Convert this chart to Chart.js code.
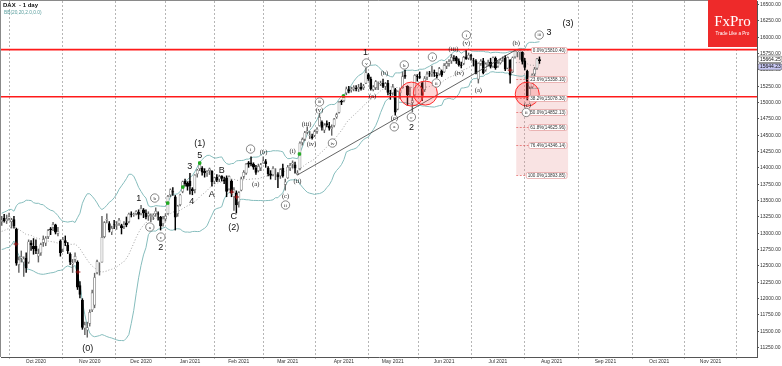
<!DOCTYPE html>
<html>
<head>
<meta charset="utf-8">
<title>DAX - 1 day</title>
<script src="https://cdn.jsdelivr.net/npm/chart.js"></script>
<style>
  html, body { margin: 0; padding: 0; background: #fff; }
  #wrap { width: 782px; height: 366px; }
</style>
</head>
<body>
<div id="wrap"><canvas id="chart" width="782" height="366"></canvas></div>
<script>

/* DATA - daily candles, index 0 = 11 Sep 2020, last = 26 Jul 2021 */
const openV = [
  13180,13230,13190,13230,13180,13210,13060,12520,12620,12560,12620,12560,12850,12800,
  12800,12650,12700,12860,12850,12950,13070,13090,13130,13000,12880,12760,12890,12820,12680,12530,12600,12560,12200,11980,11550,11520,
  11620,11830,11900,12400,12480,12560,12950,13200,13150,13020,13140,13120,13150,13120,13110,13160,13180,13300,13280,13300,13320,
  13300,13360,13310,13270,13260,13250,13300,13300,13250,13150,13220,13300,13590,13640,13560,13300,13440,13640,13800,13770,
  13800,13680,13670,13910,13990,14000,13950,13930,13960,13950,13800,13860,13830,13880,13820,13850,13680,13800,13560,13620,
  13480,13660,13870,13920,14080,14080,14060,14000,13960,14000,14080,14100,14000,13910,13900,13950,13900,13880,14000,13750,
  13850,14000,14060,14050,13900,13990,14390,14440,14550,14500,14480,14500,14560,14650,14700,14580,14680,14640,14600,14650,14780,14850,15020,
  15030,15150,15200,15190,15210,15220,15210,15240,15230,15300,15430,15360,15200,15230,15280,15290,15300,15250,15300,15140,
  15150,15200,14900,15150,15230,15420,15250,15150,15000,15120,15400,15400,15300,15200,15390,15440,15440,15460,15420,15440,15480,
  15470,15560,15600,15640,15680,15690,15640,15580,15600,15700,15680,15720,15640,15640,15360,15600,15640,15500,15600,15620,15560,15680,
  15560,15610,15660,15680,15530,15650,15470,15700,15780,15780,15770,15640,15480,15100,15240,15440,15530,15660
];
const highV = [
  13260,13290,13280,13310,13230,13260,13080,12640,12730,12640,12700,12900,12890,12920,
  12900,12760,12850,12960,12950,13060,13090,13170,13140,13090,12900,12940,12960,12860,12700,12600,12700,12580,12260,12000,11640,11640,
  11830,12130,12390,12590,12550,13260,13180,13300,13180,13110,13200,13180,13230,13140,13180,13250,13310,13330,13310,13350,13360,
  13430,13380,13360,13330,13300,13300,13390,13330,13260,13260,13300,13580,13680,13700,13580,13430,13600,13800,13830,13790,
  13920,13700,13900,13980,14080,14020,13990,13960,14000,13960,13860,13900,13890,13880,13860,13880,13880,13820,13700,13650,
  13640,13860,13960,14070,14100,14170,14080,14040,14060,14070,14170,14130,14020,13960,14020,13990,13930,13990,14060,13830,
  14040,14070,14110,14090,13960,14400,14460,14560,14630,14560,14520,14580,14620,14840,14720,14680,14720,14700,14660,14760,14840,15020,15040,
  15120,15240,15250,15240,15260,15260,15280,15300,15280,15530,15450,15390,15260,15340,15320,15330,15360,15310,15340,15190,
  15280,15220,15180,15220,15470,15500,15260,15240,15080,15430,15430,15470,15320,15400,15470,15480,15560,15500,15460,15540,15500,
  15600,15630,15660,15740,15720,15710,15670,15620,15710,15800,15760,15740,15680,15660,15610,15660,15680,15610,15650,15680,15700,15700,
  15640,15670,15700,15720,15700,15660,15700,15800,15810,15800,15780,15680,15500,15240,15440,15540,15680,15700
];
const lowV = [
  13120,13170,13150,13200,13080,13080,12510,12400,12560,12340,12400,12540,12740,12680,
  12690,12560,12660,12800,12810,12920,12980,13040,12990,12960,12650,12720,12810,12690,12520,12400,12560,12140,12010,11530,11450,11410,
  11580,11800,11860,12380,12360,12560,12930,13160,13020,12980,13070,13060,13120,12990,13070,13100,13160,13250,13260,13280,13220,
  13280,13240,13220,13200,13180,13210,13260,13200,13050,13110,13190,13290,13560,13580,13050,13260,13420,13620,13720,13660,
  13600,13590,13620,13860,13960,13890,13860,13870,13900,13720,13760,13790,13790,13800,13760,13560,13660,13560,13350,13310,
  13400,13650,13840,13900,14010,14030,13980,13900,13940,13960,14070,14010,13880,13830,13880,13820,13700,13840,13860,13660,
  13840,13960,14000,13920,13894,13970,14350,14420,14520,14450,14440,14480,14530,14640,14580,14540,14630,14580,14500,14630,14760,14840,14970,
  15010,15120,15150,15160,15180,15180,15170,15190,15200,15290,15340,15190,15180,15200,15200,15260,15230,15200,15120,15050,
  15120,14810,14890,15060,15220,15370,14960,15090,14860,15110,15330,15370,15030,15170,15350,15400,15400,15400,15380,15420,15400,
  15460,15520,15560,15600,15640,15600,15560,15530,15580,15660,15660,15650,15560,15440,15300,15570,15440,15480,15560,15530,15540,15510,
  15540,15590,15630,15490,15520,15300,15460,15680,15700,15660,15590,15500,15040,15020,15220,15400,15510,15600
];
const closeV = [
  13202,13194,13218,13255,13208,13116,12542,12594,12643,12607,12469,12871,12826,12761,
  12731,12689,12828,12907,12928,13042,13051,13138,13018,13028,12703,12909,12854,12736,12558,12543,12646,12177,12063,11561,11598,11556,
  11789,12089,12324,12568,12480,12938,13163,13216,13053,13077,13139,13134,13201,13087,13137,13127,13292,13290,13286,13335,13291,
  13382,13313,13252,13299,13271,13278,13340,13295,13114,13223,13263,13565,13667,13630,13246,13418,13587,13790,13761,13719,
  13726,13651,13892,13968,14049,13937,13925,13940,13988,13787,13848,13815,13870,13840,13800,13643,13871,13620,13665,13433,
  13622,13835,13933,14060,14057,14059,14011,13933,14026,14050,14109,14065,13909,13887,13993,13950,13865,13976,13879,13786,
  14012,14039,14080,13997,13921,14380,14437,14540,14569,14502,14461,14557,14596,14776,14621,14657,14662,14610,14621,14749,14818,15009,15008,
  15107,15212,15177,15203,15234,15215,15234,15209,15255,15460,15368,15210,15240,15321,15280,15296,15249,15292,15155,15136,
  15237,14856,15171,15197,15400,15400,15120,15151,15031,15417,15396,15386,15114,15370,15438,15438,15465,15451,15407,15520,15421,
  15568,15603,15632,15693,15677,15641,15581,15571,15693,15674,15729,15711,15637,15448,15603,15636,15456,15590,15607,15554,15691,15531,
  15603,15650,15661,15511,15693,15421,15688,15790,15790,15789,15630,15540,15090,15216,15422,15514,15669,15644
];
// closes of the 19 sessions before the first candle (Bollinger warm-up)
const warmupCloses = [12920,12881,12977,12830,12765,13067,13062,13190,13096,13033,12945,12974,13243,13057,12842,13100,12968,13237,13209];

const monthTickIdx = [14, 36, 57, 77, 97, 117, 140, 160, 181, 203, 225, 247, 269, 290];
const monthTickLabels = ['Oct 2020','Nov 2020','Dec 2020','Jan 2021','Feb 2021','Mar 2021','Apr 2021','May 2021','Jun 2021','Jul 2021','Aug 2021','Sep 2021','Oct 2021','Nov 2021'];
const priceTicks = [11250,11500,11750,12000,12250,12500,12750,13000,13250,13500,13750,14000,14250,14500,14750,15000,15250,15500,15750,16000,16250,16500];

const redLevels = [15812, 15090];
const fibRatios = ['0.0','23.6','38.2','50.0','61.8','76.4','100.0'];
const fibLevels = [15810.40, 15358.10, 15078.30, 14852.13, 14625.96, 14346.14, 13893.85];
const fibSpan = [210.5, 231.7];
const trendIdx = [121, 210.5];
const trendVal = [13893.85, 15810.40];
const circleIdx = [167.6, 173.3, 215.0];
const circleVal = [15131, 15147, 15131];
const greenIdx = [67.9, 74.1, 81.0, 121.8, 139.8];
const greenVal = [13463, 13708, 14076, 14214, 15101];
const crossIdx = [5.8, 31.2, 94.1, 96.1, 208.0];
const crossVal = [12836, 12408, 13632, 13556, 15498];
const lastPrices = [15664.25, 15644.23];

const waveText = ['(0)','1','b','a','c','2','3','4','(1)','5','A','B','C','(2)','i','(a)','(b)','(c)','ii','(i)','(ii)','(iii)','(iv)','(v)','iii','iv','1','v','(a)','(b)','(c)','a','b','c','2','i','ii','(iii)','(iv)','(v)','i','(a)','(b)','(c)','ii','iii','3','(3)'];
const waveKind = ['big','big','circ','circ','circ','big','big','big','big','big','big','big','big','big','circ','paren','paren','paren','circ','paren','paren','paren','paren','paren','circ','circ','big','circ','paren','paren','paren','circ','circ','circ','big','circ','circ','paren','paren','paren','circ','paren','paren','paren','circ','circ','big','big'];
const waveIdx = [35.2,56.1,62.6,60.6,65.1,65.1,76.9,77.7,81.0,81.0,85.9,90.0,94.9,94.9,101.8,103.9,107.1,116.1,116.1,119.0,121.0,124.7,126.7,130.0,130.0,135.3,148.8,149.2,151.7,156.6,160.6,160.6,164.7,167.6,167.6,176.2,177.8,184.8,187.2,190.1,190.1,195.0,210.5,215.0,214.6,219.9,223.9,231.7];
const waveVal = [11244,13540,13540,13096,12943,12790,14015,13494,14367,14198,13600,13954,13250,13082,14290,13755,14244,13571,13433,14260,13801,14673,14367,14887,15010,14382,15761,15607,15100,15454,14760,14630,15577,14780,14612,15699,15301,15822,15454,15913,16035,15193,15913,14960,14850,16035,16081,16219];

/* BOLLINGER (20, 2.0) from the closes */
const bbUp = [], bbMid = [], bbLow = [];
const closesAll = warmupCloses.concat(closeV);
closeV.forEach((c, i) => {
    const end = i + warmupCloses.length;
    const win = closesAll.slice(end - 19, end + 1);
    const m = win.reduce((a, b) => a + b, 0) / 20;
    const sd = Math.sqrt(win.reduce((a, b) => a + (b - m) * (b - m), 0) / 20);
    bbMid.push({x: i, y: m});
    bbUp.push({x: i, y: m + 2 * sd});
    bbLow.push({x: i, y: m - 2 * sd});
});

const wicks = closeV.map((c, i) => ({x: i, y: [lowV[i], highV[i]]}));
const bodies = closeV.map((c, i) => ({x: i, y: [Math.min(openV[i], c), Math.max(openV[i], c)]}));
const isUp = closeV.map((c, i) => c >= openV[i]);

/* no extra room for overflowing tick labels */
function noPad(s) {
    s.paddingTop = 0; s.paddingBottom = 0; s.paddingLeft = 0; s.paddingRight = 0;
}

/* OVERLAYS */
function drawWave(ctx, px, py, text, kind) {
    ctx.textAlign = 'center';
    ctx.textBaseline = 'middle';
    if (kind === 'circ') {
        ctx.beginPath();
        ctx.arc(px, py, 4.2, 0, Math.PI * 2);
        ctx.fillStyle = '#fff';
        ctx.fill();
        ctx.strokeStyle = '#555';
        ctx.lineWidth = 0.7;
        ctx.stroke();
        ctx.fillStyle = '#222';
        ctx.font = (text.length > 2 ? '4px' : '5px') + ' "Liberation Serif"';
        ctx.fillText(text, px, py + 0.3);
    } else if (kind === 'paren') {
        ctx.fillStyle = '#222';
        ctx.font = '6.5px "Liberation Serif"';
        ctx.fillText(text, px, py);
    } else {
        ctx.fillStyle = '#111';
        ctx.font = '9px "Liberation Sans"';
        ctx.fillText(text, px, py);
    }
}

const overlay = {
    id: 'overlay',
    beforeDatasetsDraw(chart) {
        const {ctx, scales: {x, y}} = chart;
        ctx.save();
        const x1 = x.getPixelForValue(fibSpan[0]), x2 = x.getPixelForValue(fibSpan[1]);
        const y1 = y.getPixelForValue(fibLevels[0]), y2 = y.getPixelForValue(fibLevels[fibLevels.length - 1]);
        ctx.fillStyle = 'rgba(232,140,140,0.24)';
        ctx.fillRect(x1, y1, x2 - x1, y2 - y1);
        ctx.restore();
    },
    afterDatasetsDraw(chart) {
        const {ctx, chartArea: a, scales: {x, y}} = chart;
        ctx.save();

        // frame
        ctx.strokeStyle = '#8a8a8a';
        ctx.lineWidth = 1;
        ctx.beginPath();
        ctx.moveTo(a.left - 0.5, a.bottom);
        ctx.lineTo(a.left - 0.5, a.top - 0.5);
        ctx.lineTo(a.right, a.top - 0.5);
        ctx.stroke();

        // red levels
        ctx.strokeStyle = '#ff1a1a';
        ctx.lineWidth = 1.6;
        redLevels.forEach(v => {
            const py = y.getPixelForValue(v);
            ctx.beginPath();
            ctx.moveTo(a.left, py);
            ctx.lineTo(a.right, py);
            ctx.stroke();
        });

        // red circles
        circleIdx.forEach((v, i) => {
            ctx.beginPath();
            ctx.arc(x.getPixelForValue(v), y.getPixelForValue(circleVal[i]), 12, 0, Math.PI * 2);
            ctx.fillStyle = 'rgba(255,70,70,0.22)';
            ctx.fill();
            ctx.strokeStyle = '#ff2a2a';
            ctx.lineWidth = 1;
            ctx.stroke();
        });

        // fib levels + labels
        const fx1 = x.getPixelForValue(fibSpan[0]), fx2 = x.getPixelForValue(fibSpan[1]);
        ctx.font = '4.6px "Liberation Sans"';
        ctx.textBaseline = 'middle';
        ctx.textAlign = 'left';
        fibLevels.forEach((v, k) => {
            const py = Math.round(y.getPixelForValue(v)) + 0.5;
            const txt = fibRatios[k] + '%(' + v.toFixed(2) + ')';
            const w = ctx.measureText(txt).width + 3;
            const bx = fx2 - 1 - w;
            ctx.strokeStyle = '#e05a5a';
            ctx.lineWidth = 0.7;
            ctx.setLineDash([2, 1.5]);
            ctx.beginPath();
            ctx.moveTo(fx1, py);
            ctx.lineTo(bx, py);
            ctx.stroke();
            ctx.setLineDash([]);
            ctx.fillStyle = '#fff';
            ctx.beginPath();
            ctx.roundRect(bx, py - 3, w, 6, 1.5);
            ctx.fill();
            ctx.strokeStyle = '#e29a9a';
            ctx.stroke();
            ctx.fillStyle = '#333';
            ctx.fillText(txt, bx + 1.5, py + 0.2);
        });

        // wave labels
        waveText.forEach((t, i) => {
            drawWave(ctx, x.getPixelForValue(waveIdx[i]), y.getPixelForValue(waveVal[i]), t, waveKind[i]);
        });

        ctx.restore();
    },
    afterDraw(chart) {
        const {ctx, chartArea: a, scales: {y}} = chart;
        ctx.save();

        // title
        ctx.textBaseline = 'middle';
        ctx.textAlign = 'left';
        ctx.fillStyle = '#111';
        ctx.font = 'bold 6px "Liberation Sans"';
        ctx.fillText('DAX  - 1 day', 3, 5);
        ctx.fillStyle = '#5a9e9e';
        ctx.font = '4.8px "Liberation Sans"';
        ctx.fillText('BB(20,20,2.0,0.0)', 4, 13);

        // logo
        ctx.fillStyle = '#ee2a2a';
        ctx.fillRect(a.right - 49, 0, 49, 47);
        ctx.fillStyle = '#fff';
        ctx.textAlign = 'center';
        ctx.font = '15px "Liberation Serif"';
        ctx.fillText('FxPro', a.right - 24.5, 22.5);
        ctx.font = '4.6px "Liberation Sans"';
        ctx.fillText('Trade Like a Pro', a.right - 24.5, 33.5);

        // last price tags
        const t1 = y.getPixelForValue(lastPrices[0]);
        const t2 = Math.max(y.getPixelForValue(lastPrices[1]), t1 + 7.5);
        [[t1, '#fff'], [t2, '#c6c6f2']].forEach(([py, fill], i) => {
            ctx.fillStyle = fill;
            ctx.strokeStyle = '#666';
            ctx.lineWidth = 0.7;
            ctx.beginPath();
            ctx.roundRect(a.right + 1, py - 3.3, 24, 6.6, 2);
            ctx.fill();
            ctx.stroke();
            ctx.fillStyle = '#111';
            ctx.font = '5px "Liberation Sans"';
            ctx.textAlign = 'left';
            ctx.fillText(lastPrices[i].toFixed(2), a.right + 3, py + 0.2);
        });
        ctx.restore();
    }
};

new Chart(document.getElementById('chart'), {
    type: 'bar',
    data: {
        datasets: [
            {type: 'line', data: greenIdx.map((v, i) => ({x: v, y: greenVal[i]})), showLine: false,
             pointStyle: 'rect', pointRadius: 1.7, pointBackgroundColor: '#22aa22', pointBorderColor: '#22aa22', order: 0},
            {type: 'line', data: crossIdx.map((v, i) => ({x: v, y: crossVal[i]})), showLine: false,
             pointStyle: 'cross', pointRadius: 2.4, pointBorderColor: '#a01515', pointBorderWidth: 1, order: 0},
            {type: 'line', data: trendIdx.map((v, i) => ({x: v, y: trendVal[i]})), borderColor: '#3c3c3c',
             borderWidth: 0.8, pointRadius: 0, order: 1},
            {data: bodies, backgroundColor: isUp.map(u => u ? '#ffffff' : '#000000'),
             borderColor: isUp.map(u => u ? '#7a7a7a' : '#000000'), borderWidth: 0.7, borderSkipped: false,
             barThickness: 2.3, grouped: false, order: 2},
            {data: wicks, backgroundColor: isUp.map(u => u ? '#666666' : '#000000'),
             barThickness: 0.8, grouped: false, order: 3},
            {type: 'line', data: bbUp, borderColor: '#86bdbd', borderWidth: 1, pointRadius: 0, order: 4},
            {type: 'line', data: bbLow, borderColor: '#86bdbd', borderWidth: 1, pointRadius: 0, order: 4},
            {type: 'line', data: bbMid, borderColor: '#8c8c8c', borderWidth: 0.8, borderDash: [1, 2], pointRadius: 0, order: 4}
        ]
    },
    options: {
        responsive: false,
        animation: false,
        devicePixelRatio: 1,
        events: [],
        layout: {autoPadding: false, padding: {left: 1, top: 1, right: 0, bottom: 0}},
        plugins: {legend: {display: false}, tooltip: {enabled: false}},
        scales: {
            x: {
                type: 'linear', min: -0.3, max: 309, offset: false,
                afterBuildTicks: s => { s.ticks = monthTickIdx.map(v => ({value: v})); },
                afterFit: s => { s.height = 9; noPad(s); },
                ticks: {autoSkip: false, maxRotation: 0, padding: 0, color: '#333',
                        font: {family: '"Liberation Sans"', size: 5},
                        callback: v => monthTickLabels[monthTickIdx.indexOf(v)]},
                grid: {color: '#a4a4a4', lineWidth: 0.8, tickLength: 2},
                border: {display: true, color: '#555', width: 1, dash: [2, 2]}
            },
            y: {
                type: 'linear', position: 'right', min: 11107, max: 16556,
                afterBuildTicks: s => { s.ticks = priceTicks.map(v => ({value: v})); },
                afterFit: s => { s.width = 25; noPad(s); },
                ticks: {autoSkip: false, padding: 1, color: '#333',
                        font: {family: '"Liberation Sans"', size: 5},
                        callback: v => v.toFixed(2)},
                grid: {drawOnChartArea: false, tickLength: 2, color: '#555'},
                border: {display: true, color: '#555', width: 1}
            }
        }
    },
    plugins: [overlay]
});

</script>
</body>
</html>
